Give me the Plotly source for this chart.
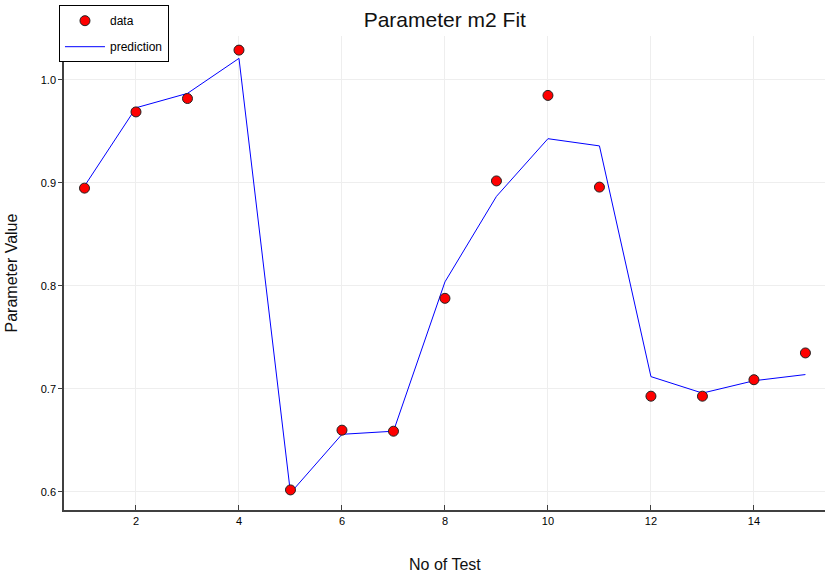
import plotly.graph_objects as go

tests = list(range(1, 16))
data_values = [0.895, 0.969, 0.982, 1.029, 0.602, 0.660, 0.659, 0.788, 0.902, 0.985,
               0.896, 0.693, 0.693, 0.709, 0.735]
prediction_values = [0.897, 0.973, 0.987, 1.021, 0.599, 0.656, 0.659, 0.804, 0.887, 0.943,
                     0.936, 0.712, 0.696, 0.708, 0.714]
x_ticks = [2, 4, 6, 8, 10, 12, 14]
y_ticks = [0.6, 0.7, 0.8, 0.9, 1.0]

FONT = "Liberation Sans, Arial, sans-serif"

fig = go.Figure()
fig.add_trace(go.Scatter(
    x=tests, y=prediction_values, mode="lines", name="prediction",
    legendgroup="p", legendrank=2,
    line=dict(color="#0000ff", width=1),
))
fig.add_trace(go.Scatter(
    x=tests, y=data_values, mode="markers", name="data",
    legendgroup="d", legendrank=1,
    marker=dict(color="#ff0000", size=10, line=dict(color="#222222", width=1)),
))

fig.update_layout(
    width=826, height=574,
    margin=dict(l=64, r=1, t=36, b=64),
    paper_bgcolor="white", plot_bgcolor="white",
    font=dict(family=FONT, color="#000000"),
    title=dict(text="Parameter m2 Fit", x=0.5385, xanchor="center", y=0.965, yanchor="middle",
               font=dict(size=21, family=FONT, color="#111111")),
    showlegend=True,
    legend=dict(x=-0.0066, y=1.065, xanchor="left", yanchor="top",
                bgcolor="white", bordercolor="#000000", borderwidth=1,
                font=dict(size=12, family=FONT),
                tracegroupgap=7, itemwidth=40),
    xaxis=dict(
        range=[0.602, 15.38], tickvals=x_ticks, ticks="inside", ticklen=5,
        tickcolor="#404040", tickfont=dict(size=11), showline=True, linecolor="#404040",
        linewidth=1.5, showgrid=True, gridcolor="#eeeeee", gridwidth=1, zeroline=False,
        automargin=False,
    ),
    yaxis=dict(
        range=[0.5825, 1.0427], tickvals=y_ticks, tickformat=".1f", ticks="outside",
        ticklen=4, tickcolor="#404040", tickfont=dict(size=11), showline=True,
        linecolor="#404040", linewidth=1.5, showgrid=True, gridcolor="#eeeeee",
        gridwidth=1, zeroline=False, automargin=False,
    ),
    annotations=[
        dict(text="No of Test", xref="paper", yref="paper", x=0.5, y=-0.115,
             xanchor="center", yanchor="middle", showarrow=False,
             font=dict(size=16, family=FONT, color="#111111")),
        dict(text="Parameter Value", xref="paper", yref="paper", x=-0.069, y=0.5,
             xanchor="center", yanchor="middle", textangle=-90, showarrow=False,
             font=dict(size=16, family=FONT, color="#111111")),
    ],
)

fig.write_html(
    "out.html",
    config={"displayModeBar": False},
    post_script="document.body.style.margin='0';document.body.style.padding='0';",
)
